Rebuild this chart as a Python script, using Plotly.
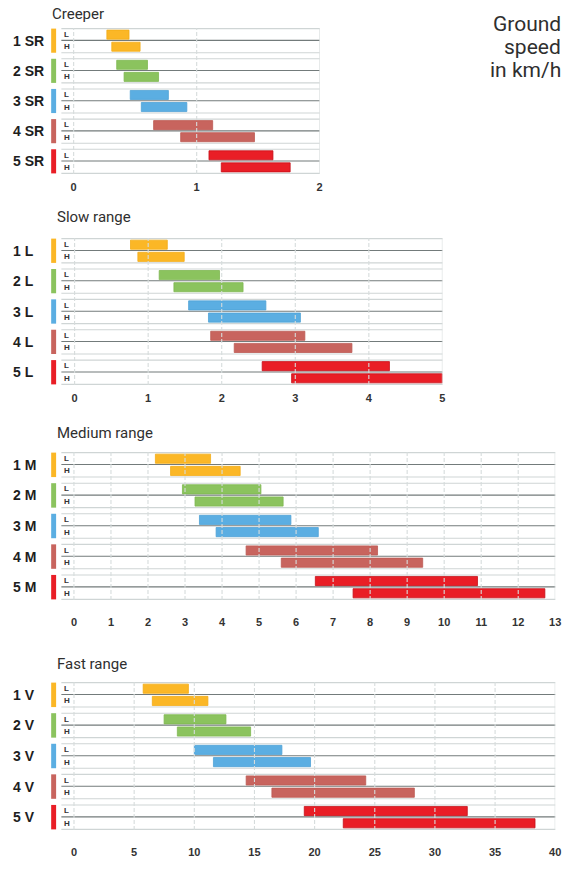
import plotly.graph_objects as go

W, H = 584, 870


def px(x):
    return x / W


def py(y):
    return 1 - y / H


gear_colors = ["#FBB726", "#8BC35E", "#5BAEE2", "#C8645E", "#E91E26"]
gear_lines = ["#F2AC18", "#7FB852", "#4FA2D6", "#BC5A54", "#C5121A"]

panel_titles = ["Creeper", "Slow range", "Medium range", "Fast range"]

# ground speed ranges in km/h (L and H row of each gear)
creeper_gears = ["1 SR", "2 SR", "3 SR", "4 SR", "5 SR"]
creeper_l_from = [0.27, 0.35, 0.46, 0.65, 1.10]
creeper_l_to = [0.45, 0.60, 0.77, 1.13, 1.62]
creeper_h_from = [0.31, 0.41, 0.55, 0.87, 1.20]
creeper_h_to = [0.54, 0.69, 0.92, 1.47, 1.76]
creeper_ticks = [0, 1, 2]

slow_gears = ["1 L", "2 L", "3 L", "4 L", "5 L"]
slow_l_from = [0.76, 1.15, 1.55, 1.85, 2.55]
slow_l_to = [1.26, 1.97, 2.60, 3.13, 4.28]
slow_h_from = [0.86, 1.35, 1.82, 2.17, 2.95]
slow_h_to = [1.49, 2.29, 3.07, 3.77, 5.00]
slow_ticks = [0, 1, 2, 3, 4, 5]

medium_gears = ["1 M", "2 M", "3 M", "4 M", "5 M"]
medium_l_from = [2.20, 2.93, 3.39, 4.65, 6.52]
medium_l_to = [3.69, 5.05, 5.86, 8.20, 10.90]
medium_h_from = [2.61, 3.27, 3.84, 5.60, 7.54]
medium_h_to = [4.49, 5.65, 6.60, 9.42, 12.72]
medium_ticks = [0, 1, 2, 3, 4, 5, 6, 7, 8, 9, 10, 11, 12, 13]

fast_gears = ["1 V", "2 V", "3 V", "4 V", "5 V"]
fast_l_from = [5.75, 7.49, 10.0, 14.31, 19.14]
fast_l_to = [9.51, 12.63, 17.28, 24.25, 32.69]
fast_h_from = [6.51, 8.59, 11.59, 16.45, 22.38]
fast_h_to = [11.13, 14.68, 19.66, 28.29, 38.32]
fast_ticks = [0, 5, 10, 15, 20, 25, 30, 35, 40]

# layout of each panel in page pixels
panels = [
    dict(gears=creeper_gears, lf=creeper_l_from, lt=creeper_l_to,
         hf=creeper_h_from, ht=creeper_h_to, ticks=creeper_ticks,
         xmin=-0.1, right=323, top=28, bottom=174, tx=51, ty=14, standoff=5),
    dict(gears=slow_gears, lf=slow_l_from, lt=slow_l_to,
         hf=slow_h_from, ht=slow_h_to, ticks=slow_ticks,
         xmin=-0.18, right=447, top=238, bottom=385, tx=56, ty=217, standoff=5),
    dict(gears=medium_gears, lf=medium_l_from, lt=medium_l_to,
         hf=medium_h_from, ht=medium_h_to, ticks=medium_ticks,
         xmin=-0.34, right=561, top=452, bottom=600, tx=56, ty=433, standoff=14),
    dict(gears=fast_gears, lf=fast_l_from, lt=fast_l_to,
         hf=fast_h_from, ht=fast_h_to, ticks=fast_ticks,
         xmin=-1.05, right=561, top=682, bottom=830, tx=56, ty=664, standoff=14),
]

fig = go.Figure()
shapes = []
annotations = []
label_font = "Liberation Sans, Arial, sans-serif"
title_font = "Roboto, Liberation Sans, sans-serif"

for k, p in enumerate(panels):
    sfx = "" if k == 0 else str(k + 1)
    xa, ya = "x" + sfx, "y" + sfx
    idx = list(range(len(p["gears"])))

    # L and H bars
    for fr, to, off in [(p["lf"], p["lt"], 0.2), (p["hf"], p["ht"], 0.6)]:
        fig.add_trace(go.Bar(
            orientation="h",
            y=[i + off for i in idx],
            x=[b - a for a, b in zip(fr, to)],
            base=fr,
            width=0.3,
            marker=dict(color=gear_colors, line=dict(color=gear_lines, width=0.8)),
            xaxis=xa, yaxis=ya,
            showlegend=False,
            hoverinfo="skip",
        ))

    for i in idx:
        # light group borders and dark centre line
        for yy, col in [(i, "#cfd5d5"), (i + 0.8, "#cfd5d5"), (i + 0.39, "#737b7b")]:
            shapes.append(dict(type="line", xref=f"{xa} domain", yref=ya,
                               x0=0, x1=1, y0=yy, y1=yy, layer="below",
                               line=dict(color=col, width=1.1)))
        # coloured tag
        shapes.append(dict(type="rect", xref="paper", yref=ya,
                           x0=px(51.7), x1=px(56.7), y0=i, y1=i + 0.8,
                           fillcolor=gear_colors[i], line=dict(width=0)))
        annotations.append(dict(text=p["gears"][i], xref="paper", yref=ya,
                                x=px(11), y=i + 0.4, xanchor="left", yanchor="middle",
                                showarrow=False,
                                font=dict(family=label_font, size=14, color="#1e1e1e",
                                          weight="bold")))
        for txt, yy in [("L", i + 0.19), ("H", i + 0.6)]:
            annotations.append(dict(text=txt, xref="paper", yref=ya,
                                    x=px(63), y=yy, xanchor="left", yanchor="middle",
                                    showarrow=False,
                                    font=dict(family=label_font, size=8, color="#333",
                                              weight="bold")))

    # vertical grid drawn over the bars
    for t in p["ticks"]:
        last = t == p["ticks"][-1]
        shapes.append(dict(type="line", xref=xa, yref=f"{ya} domain",
                           x0=t, x1=t, y0=0, y1=1, layer="above",
                           line=dict(color="#d6dcdc", width=1.1,
                                     dash="solid" if last else "4px,2px")))

    annotations.append(dict(text=panel_titles[k], xref="paper", yref="paper",
                            x=px(p["tx"]), y=py(p["ty"]),
                            xanchor="left", yanchor="middle", showarrow=False,
                            font=dict(family=title_font, size=15, color="#2f2f2f")))

    fig.update_layout({
        "xaxis" + sfx: dict(domain=[px(62), px(p["right"])], anchor=ya,
                            range=[p["xmin"], p["ticks"][-1]],
                            tickvals=p["ticks"], showgrid=False, zeroline=False,
                            showline=False, ticks="", fixedrange=True,
                            ticklabelstandoff=p["standoff"],
                            tickfont=dict(family=label_font, size=11, color="#333",
                                          weight="bold")),
        "yaxis" + sfx: dict(domain=[py(p["bottom"]), py(p["top"])], anchor=xa,
                            range=[4.82, -0.02], visible=False, fixedrange=True),
    })

for txt, yy in [("Ground", 24), ("speed", 47), ("in km/h", 70)]:
    annotations.append(dict(text=txt, xref="paper", yref="paper",
                            x=px(569), y=py(yy), xanchor="right", yanchor="middle",
                            showarrow=False, height=22, valign="middle",
                            font=dict(family=title_font, size=21, color="#2f2f2f")))

fig.update_layout(
    width=W, height=H,
    margin=dict(l=0, r=0, t=0, b=0),
    paper_bgcolor="white", plot_bgcolor="white",
    barmode="overlay",
    shapes=shapes, annotations=annotations,
)

# drop the default body margin so the figure fills the window exactly
fig.write_html("out.html", config={"displayModeBar": False},
               post_script="document.body.style.margin = '0px';")
